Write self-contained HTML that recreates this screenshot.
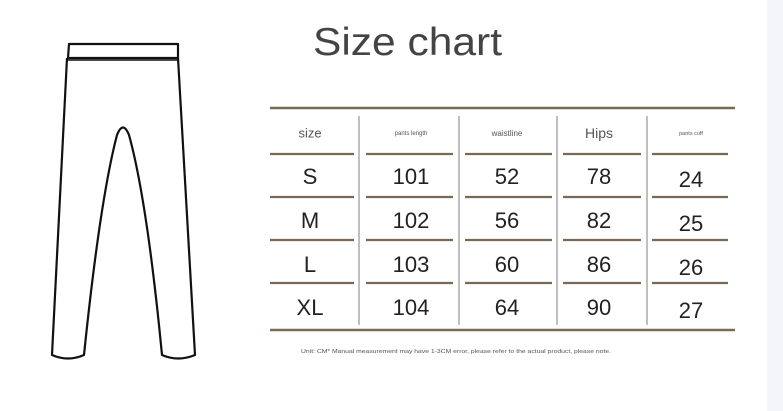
<!DOCTYPE html>
<html><head><meta charset="utf-8"><style>
html,body{margin:0;padding:0;background:#fff;}
body{width:783px;height:411px;overflow:hidden;position:relative;font-family:"Liberation Sans",sans-serif;}
</style></head><body>
<div style="position:absolute;left:767px;top:0;width:16px;height:411px;background:#f4f5f8"></div>
<svg width="783" height="411" style="position:absolute;left:0;top:0">
  <g fill="none" stroke="#111" stroke-width="2.2" stroke-linejoin="round">
    <path d="M69,44 L178,44 L178,58 L68,58 Z"/>
    <line x1="68" y1="60" x2="178" y2="60" stroke-width="1.5"/>
    <path d="M67,58 L52,355 Q68,362 84,355 Q100,200 117,135 Q123,120 129,135 Q147,200 162,355 Q178,362 195,355 L178,58"/>
  </g>
  <text x="313" y="55" font-size="39" fill="#444" textLength="189" lengthAdjust="spacingAndGlyphs">Size chart</text>
  <g stroke="#7a6a55">
    <line x1="270" y1="108" x2="735" y2="108" stroke-width="2.5"/>
    <line x1="270" y1="330" x2="735" y2="330" stroke-width="2.5"/>
  </g>
  <g id="tbl"></g>
  <text x="301" y="353" font-size="5.5" fill="#555" textLength="310" lengthAdjust="spacingAndGlyphs">Unit: CM* Manual measurement may have 1-3CM error, please refer to the actual product, please note.</text>
</svg>
<script>
const headers=["size","pants length","waistline","Hips","pants cuff"];
const headerSizes=[13,6,8,14,5.5];
const sizes=["S","M","L","XL"];
const pantsLength=[101,102,103,104];
const waistline=[52,56,60,64];
const hips=[78,82,86,90];
const pantsCuff=[24,25,26,27];
const ns="http://www.w3.org/2000/svg";
const g=document.getElementById('tbl');
const colCenters=[310,411,507,599,691];
const segs=[[270,354],[366,453],[465,552],[563,641],[652,728]];
const vlines=[359,459,557,647];
const rowLines=[154,197,240,283];
const rowY=[184,228,272,315];
const cols=[sizes,pantsLength,waistline,hips,pantsCuff];
vlines.forEach(x=>{const l=document.createElementNS(ns,'line');


l.setAttribute('x1',x);l.setAttribute('x2',x);l.setAttribute('y1',116);l.setAttribute('y2',325);l.setAttribute('stroke','#aaa');l.setAttribute('stroke-width','1.5');g.appendChild(l);});
segs.forEach(s=>rowLines.forEach(y=>{const l=document.createElementNS(ns,'line');


l.setAttribute('x1',s[0]);l.setAttribute('x2',s[1]);l.setAttribute('y1',y);l.setAttribute('y2',y);l.setAttribute('stroke','#7a6a55');l.setAttribute('stroke-width','2.2');g.appendChild(l);}));
headers.forEach((h,i)=>{const t=document.createElementNS(ns,'text');


t.setAttribute('x',colCenters[i]);t.setAttribute('y',133+headerSizes[i]*0.35);t.setAttribute('text-anchor','middle');t.setAttribute('font-size',headerSizes[i]);t.setAttribute('fill','#555');t.textContent=h;g.appendChild(t);});
cols.forEach((c,i)=>c.forEach((v,r)=>{const t=document.createElementNS(ns,'text');


t.setAttribute('x',colCenters[i]);t.setAttribute('y',rowY[r]+(i==4?3:0));t.setAttribute('text-anchor','middle');t.setAttribute('font-size',22);t.setAttribute('fill','#222');t.textContent=v;g.appendChild(t);}));
</script>
</body></html>
